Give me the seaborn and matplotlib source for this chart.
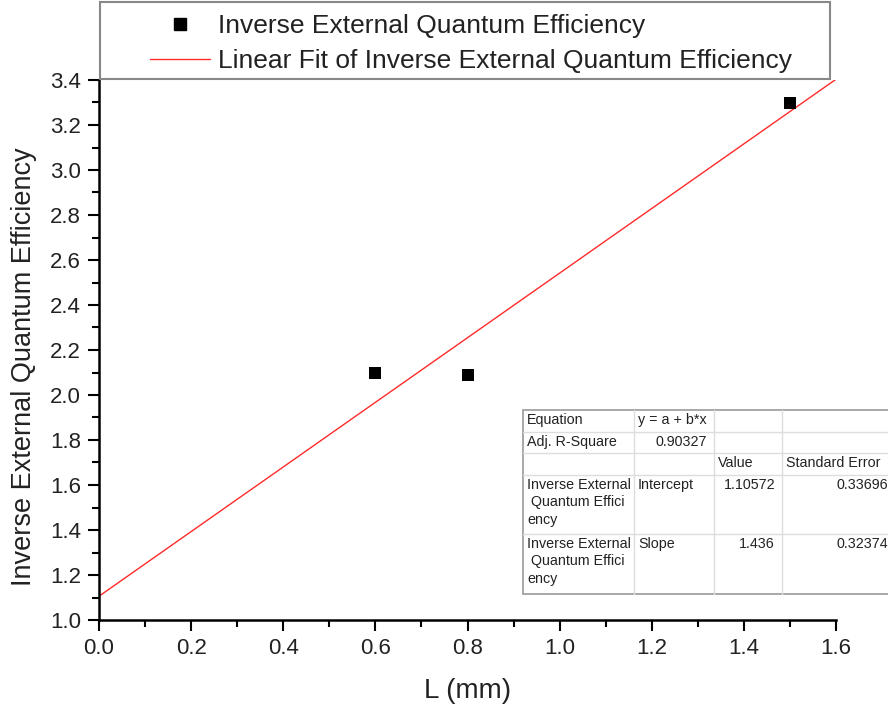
import numpy as np
import pandas as pd
import matplotlib
matplotlib.use("Agg")
import matplotlib.pyplot as plt
from matplotlib.patches import Rectangle
from matplotlib.lines import Line2D
import seaborn as sns

# ---- data ----
L_mm = [0.6, 0.8, 1.5]
inv_eqe = [2.10, 2.09, 3.30]
fit_intercept = 1.10572
fit_slope = 1.436
fit_x = [0.0, 1.6]
x_ticks = [0.0, 0.2, 0.4, 0.6, 0.8, 1.0, 1.2, 1.4, 1.6]
y_ticks = [1.0, 1.2, 1.4, 1.6, 1.8, 2.0, 2.2, 2.4, 2.6, 2.8, 3.0, 3.2, 3.4]
table_rows = [
    ["Equation", "y = a + b*x", "", ""],
    ["Adj. R-Square", "0.90327", "", ""],
    ["", "", "Value", "Standard Error"],
    ["Inverse External\n Quantum Effici\nency", "Intercept", "1.10572", "0.33696"],
    ["Inverse External\n Quantum Effici\nency", "Slope", "1.436", "0.32374"],
]
series_name = "Inverse External Quantum Efficiency"
fit_name = "Linear Fit of Inverse External Quantum Efficiency"

sns.set_theme(style="ticks")
plt.rcParams["font.family"] = ["Liberation Sans", "DejaVu Sans"]

W, H = 888, 711
fig = plt.figure(figsize=(W / 100, H / 100), dpi=100)
fig.patch.set_facecolor("white")

def fx(px):
    return px / W

def fy(py):
    return 1 - py / H

ax = fig.add_axes([fx(99), fy(620), fx(836) - fx(99), fy(80) - fy(620)])
ax.set_facecolor("white")

pts = pd.DataFrame({"L": L_mm, "y": inv_eqe})
fit_df = pd.DataFrame({"L": fit_x, "y": [fit_intercept + fit_slope * v for v in fit_x]})

sns.lineplot(data=fit_df, x="L", y="y", ax=ax, color="#ff2a2a", linewidth=1.0, zorder=2)
sns.scatterplot(data=pts, x="L", y="y", ax=ax, marker="s", s=80, color="black",
                edgecolor="black", linewidth=0, zorder=3)

ax.set_xlim(0, 1.6)
ax.set_ylim(1.0, 3.4)
ax.set_xticks(x_ticks)
ax.set_yticks(y_ticks)
ax.set_xticklabels([f"{v:.1f}" for v in x_ticks])
ax.set_yticklabels([f"{v:.1f}" for v in y_ticks])
ax.set_xticks([0.1 + 0.2 * i for i in range(8)], minor=True)
ax.set_yticks([1.1 + 0.2 * i for i in range(12)], minor=True)
ax.tick_params(which="major", direction="out", length=8, width=1.5, color="black",
               labelsize=16, labelcolor="#222222", pad=5)
ax.tick_params(which="minor", direction="out", length=5, width=1.5, color="black")
for s in ["top", "right"]:
    ax.spines[s].set_visible(False)
for s in ["left", "bottom"]:
    ax.spines[s].set_linewidth(1.8)
    ax.spines[s].set_color("black")
ax.set_xlabel("L (mm)", fontsize=20, color="#222222", labelpad=14)
ax.set_ylabel(series_name, fontsize=19.5, color="#222222")
ax.yaxis.set_label_coords(-0.084, 0.47)
ax.grid(False)

# legend box
fig.patches.append(Rectangle((fx(100), fy(79)), fx(830) - fx(100), fy(2) - fy(79),
                             transform=fig.transFigure, facecolor="white",
                             edgecolor="#888888", linewidth=1.5, zorder=5))
handles = [
    Line2D([], [], linestyle="none", marker="s", markersize=9, color="black"),
    Line2D([], [], color="#ff2a2a", linewidth=1.0),
]
leg = fig.legend(handles, [series_name, fit_name], loc="upper left",
                 bbox_to_anchor=(fx(150), fy(14)), frameon=False, fontsize=19,
                 handlelength=2.27, handletextpad=0.3, labelspacing=0.42,
                 borderpad=0, borderaxespad=0)
leg.set_zorder(6)
for t in leg.get_texts():
    t.set_color("#222222")

# fit results table
col_x = [523, 634, 714, 782, 895]
row_y = [410, 432, 453, 475, 534, 594]
fig.patches.append(Rectangle((fx(col_x[0]), fy(row_y[-1])), fx(col_x[-1]) - fx(col_x[0]),
                             fy(row_y[0]) - fy(row_y[-1]), transform=fig.transFigure,
                             facecolor="white", edgecolor="#999999", linewidth=1.2, zorder=7))
for cx in col_x[1:-1]:
    fig.lines.append(Line2D([fx(cx), fx(cx)], [fy(row_y[0]), fy(row_y[-1])],
                            transform=fig.transFigure, color="#dddddd", linewidth=1, zorder=8))
for ry in row_y[1:-1]:
    fig.lines.append(Line2D([fx(col_x[0]), fx(col_x[-1])], [fy(ry), fy(ry)],
                            transform=fig.transFigure, color="#dddddd", linewidth=1, zorder=8))
right_cols = {(1, 1), (3, 2), (3, 3), (4, 2), (4, 3)}
for r, row in enumerate(table_rows):
    for c, txt in enumerate(row):
        if not txt:
            continue
        if (r, c) in right_cols:
            x = fx(col_x[c + 1] - 7)
            ha = "right"
        else:
            x = fx(col_x[c] + 4)
            ha = "left"
        fig.text(x, fy(row_y[r] + 3), txt, ha=ha, va="top", fontsize=10.3,
                 color="#222222", linespacing=1.3, zorder=9)

fig.savefig("out.png", dpi=100)
